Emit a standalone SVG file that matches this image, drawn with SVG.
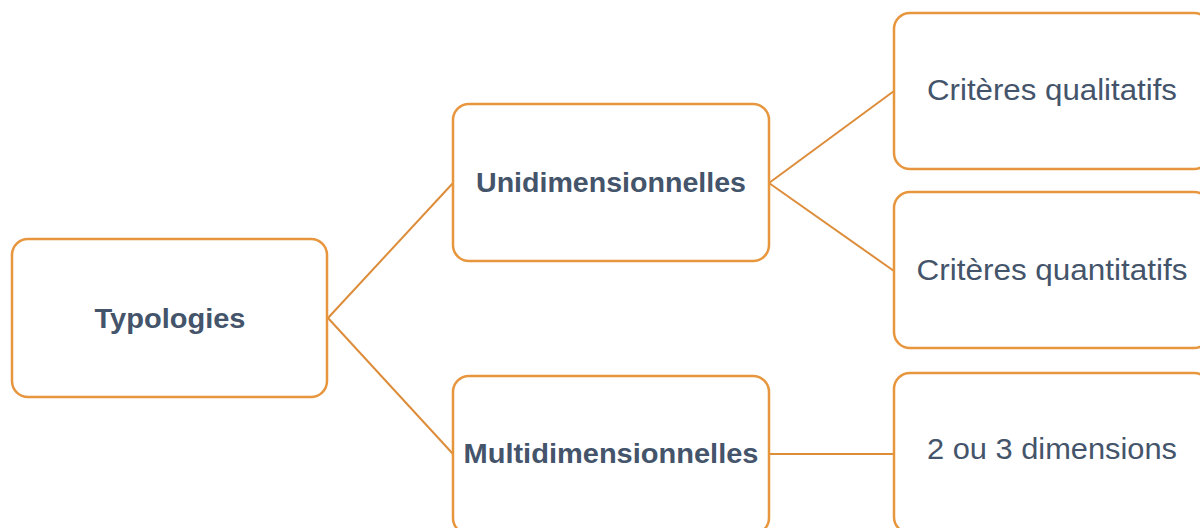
<svg xmlns="http://www.w3.org/2000/svg" width="1200" height="528" viewBox="0 0 1200 528">
<style>
.box{fill:#fff;stroke:#E8963E;stroke-width:2.5}
.con{stroke:#DD8D3A;stroke-width:2;fill:none}
.b{font-family:"Liberation Sans",Arial,sans-serif;font-weight:bold;font-size:28px;fill:#44546A;text-anchor:middle}
.r{font-family:"Liberation Sans",Arial,sans-serif;font-size:29px;fill:#44546A;text-anchor:middle}
</style>
<rect width="1200" height="528" fill="#fff"/>
<g id="connectors">
<line class="con" x1="328" y1="318" x2="453" y2="183"/>
<line class="con" x1="328" y1="318" x2="453" y2="454"/>
<line class="con" x1="769" y1="183" x2="894" y2="91"/>
<line class="con" x1="769" y1="183" x2="894" y2="271"/>
<line class="con" x1="769" y1="454" x2="894" y2="454"/>
</g>
<g id="typologies"><rect class="box" x="12" y="239" width="315" height="158" rx="16"/><text class="b" x="170" y="328" textLength="151" lengthAdjust="spacingAndGlyphs">Typologies</text></g>
<g id="unidimensionnelles"><rect class="box" x="453" y="104" width="316" height="157" rx="16"/><text class="b" x="611" y="192" textLength="270" lengthAdjust="spacingAndGlyphs">Unidimensionnelles</text></g>
<g id="multidimensionnelles"><rect class="box" x="453" y="376" width="316" height="158" rx="16"/><text class="b" x="611" y="463" textLength="295" lengthAdjust="spacingAndGlyphs">Multidimensionnelles</text></g>
<g id="qualitatifs"><rect class="box" x="894" y="13" width="316" height="156" rx="16"/><text class="r" x="1052" y="100" textLength="250" lengthAdjust="spacingAndGlyphs">Critères qualitatifs</text></g>
<g id="quantitatifs"><rect class="box" x="894" y="192" width="316" height="156" rx="16"/><text class="r" x="1052" y="280" textLength="271" lengthAdjust="spacingAndGlyphs">Critères quantitatifs</text></g>
<g id="dimensions"><rect class="box" x="894" y="373" width="316" height="160" rx="16"/><text class="r" x="1052" y="459" textLength="250" lengthAdjust="spacingAndGlyphs">2 ou 3 dimensions</text></g>
</svg>
